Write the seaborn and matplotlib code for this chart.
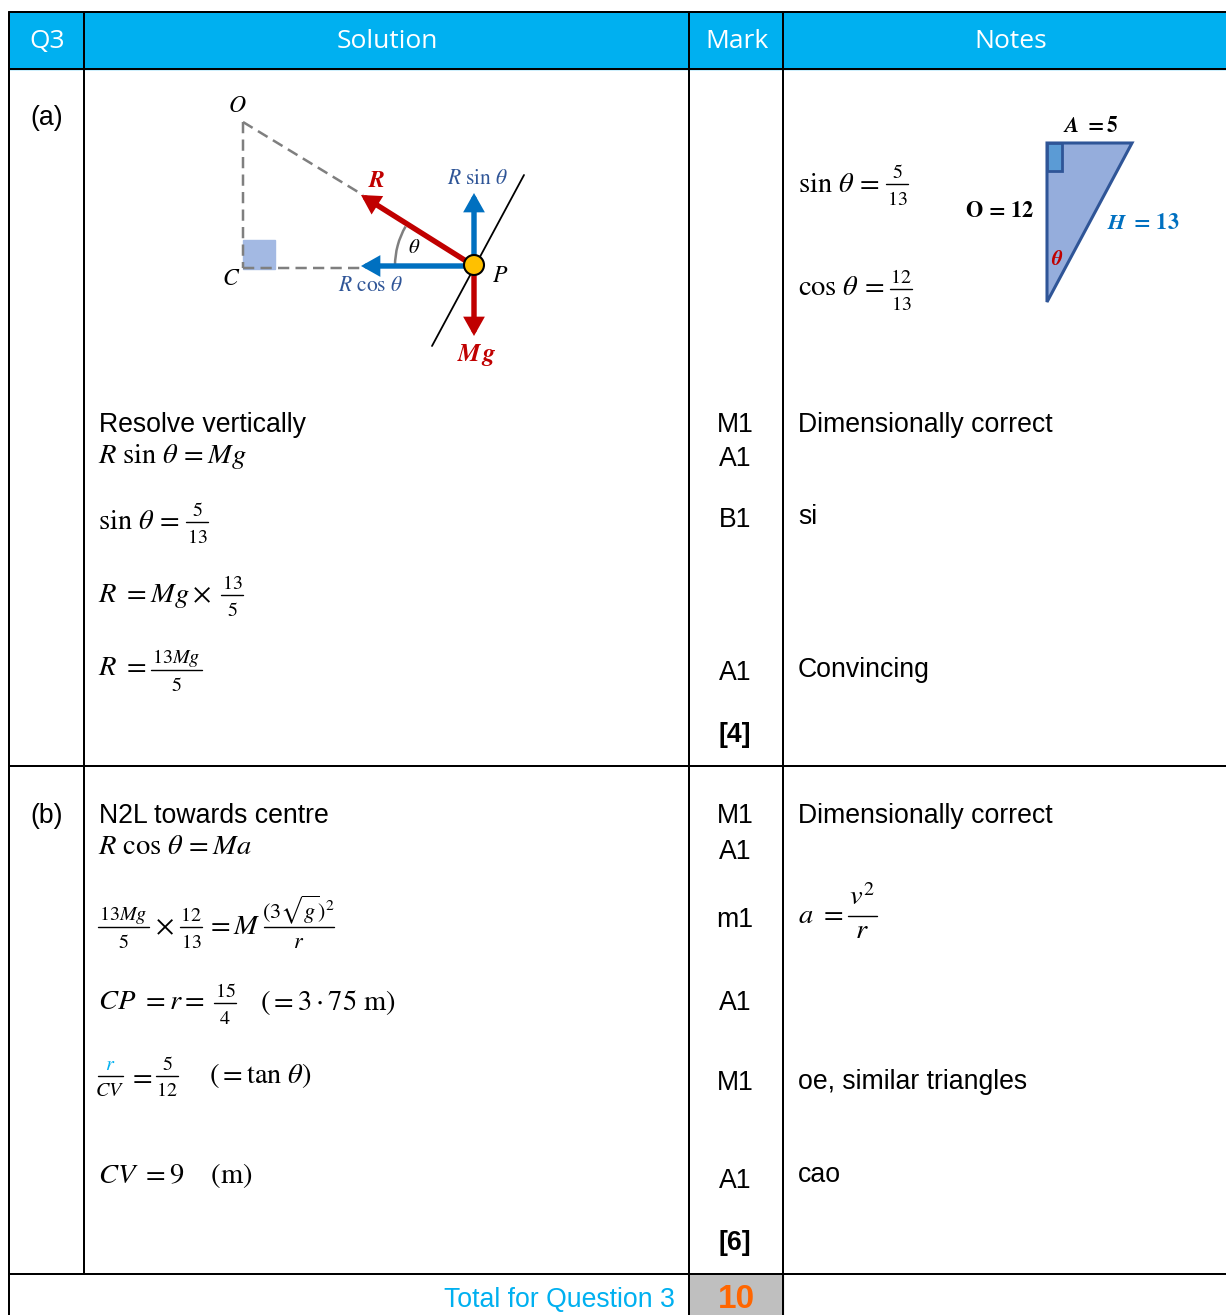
import matplotlib
matplotlib.use("Agg")
import matplotlib.pyplot as plt
from matplotlib.patches import Arc, Circle, FancyArrowPatch, Polygon, Rectangle
import seaborn as sns

# Tekst i tabellen
headers = ["Q3", "Solution", "Mark", "Notes"]
part_labels = ["(a)", "(b)"]
mark_labels = ["M1", "A1", "B1", "A1", "[4]", "M1", "A1", "m1", "A1", "M1", "A1", "[6]"]
note_labels = ["Dimensionally correct", "si", "Convincing",
               "Dimensionally correct", "oe, similar triangles", "cao"]
solution_words = ["Resolve vertically", "N2L towards centre"]
total_label = "Total for Question 3"
total_marks = "10"

# Plassering (piksler i referansen)
mark_y = [423, 457, 518, 671, 733, 814, 850, 918, 1001, 1081, 1179, 1241]
note_y = [423, 515, 668, 814, 1080, 1173]
word_y = [423, 814]
part_y = [116, 814]

HEAD_BLUE = "#00B0F0"
RED = "#C00000"
BLUE = "#0070C0"
NAVY = "#2F5597"
GREY = "#7F7F7F"
ARIAL = "Liberation Sans"
BODY = 19.2
MATH = 20.5
SMALL = 14.5

sns.set_theme(style="white")
plt.rcParams["mathtext.fontset"] = "stix"
plt.rcParams["font.family"] = [ARIAL, "DejaVu Sans"]

fig, ax = plt.subplots(figsize=(12.26, 13.15), dpi=100)
fig.subplots_adjust(0, 0, 1, 1)


def seg(xs, ys, color="black", px=2.0, **kw):
    sns.lineplot(x=xs, y=ys, sort=False, estimator=None, color=color,
                 linewidth=px * 0.72, ax=ax, legend=False, **kw)


def txt(x, y, s, size=BODY, color="black", ha="left", **kw):
    # +2: va="center" ligger litt høyt i forhold til referansen
    ax.text(x, y + 2, s, fontsize=size, color=color, ha=ha, va="center", **kw)


def frac(xc, y, width, num, den, color="black", size=SMALL, num_color=None, num_up=14):
    seg([xc - width / 2, xc + width / 2], [y, y], color=color, px=1.4)
    txt(xc, y - num_up, num, size=size, color=num_color or color, ha="center")
    txt(xc, y + 13, den, size=size, color=color, ha="center")


def arrow(start, end, color):
    ax.add_patch(FancyArrowPatch(start, end, color=color, linewidth=3.9,
                                 arrowstyle="-|>,head_length=8,head_width=4.5",
                                 mutation_scale=1, shrinkA=0, shrinkB=0,
                                 joinstyle="miter", zorder=3))


# Bakgrunnsfelt
ax.add_patch(Rectangle((9, 12), 1217, 57, color=HEAD_BLUE, zorder=0))
ax.add_patch(Rectangle((689, 1274), 94, 41, color="#BFBFBF", zorder=0))

# Tabellinjer
for y in [12, 69, 766, 1274]:
    seg([9, 1226], [y, y])
seg([9, 9], [12, 1315])
seg([84, 84], [12, 1274])
seg([689, 689], [12, 1315])
seg([783, 783], [12, 1315])

# Overskrifter
for x, label in zip([47, 387, 737, 1011], headers):
    txt(x, 39, label, size=19, color="white", ha="center", family="Open Sans")

for y, label in zip(part_y, part_labels):
    txt(47, y, label, ha="center")
for y, label in zip(mark_y, mark_labels):
    txt(735, y, label, ha="center", weight="bold" if label.startswith("[") else "normal")
for y, label in zip(note_y, note_labels):
    txt(798, y, label)
for y, label in zip(word_y, solution_words):
    txt(99, y, label)

txt(675, 1298, total_label, color=HEAD_BLUE, ha="right")
txt(736, 1298, total_marks, size=24, color="#FF6600", ha="center", weight="bold")

# Del (a) - utregning
txt(98, 454, r"$R\ \sin\,\theta\,=Mg$", size=MATH)
txt(98, 520, r"$\sin\,\theta\,=$", size=MATH)
frac(197, 522, 22, "$5$", "$13$")
txt(98, 594, r"$R\ =Mg\times$", size=MATH)
frac(232, 595, 22, "$13$", "$5$")
txt(98, 666, r"$R\ =$", size=MATH)
frac(176, 670, 51, "$13Mg$", "$5$")

# Del (b) - utregning
txt(98, 845, r"$R\ \cos\,\theta\,=Ma$", size=MATH)
frac(123, 927, 51, "$13Mg$", "$5$")
txt(155, 925, r"$\times$", size=MATH)
frac(191, 927, 22, "$12$", "$13$")
txt(206, 925, r"$=M$", size=MATH)
frac(299, 927, 70, r"$(3\sqrt{g})^2$", "$r$", size=16, num_up=19)
txt(98, 1000, r"$CP\ =r=$", size=MATH)
frac(225, 1003, 22, "$15$", "$4$")
txt(260, 1000, r"$(=3\cdot75\ \mathrm{m})$", size=MATH)
frac(110, 1076, 25, "$r$", "$CV$", num_color=HEAD_BLUE)
txt(128, 1075, "$=$", size=MATH)
frac(167, 1076, 22, "$5$", "$12$")
txt(209, 1074, r"$(=\tan\,\theta)$", size=MATH)
txt(98, 1174, r"$CV\ =9\quad\ (\mathrm{m})$", size=MATH)

# Noter - brøker
txt(798, 183, r"$\sin\,\theta\,=$", size=MATH)
frac(897, 184, 22, "$5$", "$13$")
txt(798, 286, r"$\cos\,\theta\,=$", size=MATH)
frac(901, 289, 22, "$12$", "$13$")
txt(798, 914, r"$a\ =$", size=MATH)
frac(862, 916, 29, "$v^2$", "$r$", size=MATH, num_up=20)

# Kraftdiagram
ax.add_patch(Rectangle((243, 240), 32, 29, color="#A3B9E3", zorder=1))
seg([243, 243], [122, 268], color=GREY, px=2.5, linestyle=(0, (4.5, 2.5)))
seg([243, 363], [122, 195], color=GREY, px=2.5, linestyle=(0, (4.5, 2.5)))
seg([243, 362], [268, 268], color=GREY, px=2.5, linestyle=(0, (4.5, 2.5)))
seg([524, 432], [175, 346], px=1.8)
ax.add_patch(Arc((474, 266), 158, 158, theta1=180, theta2=210, color=GREY, linewidth=1.8))
arrow((474, 266), (361, 195), RED)
arrow((474, 266), (474, 336), RED)
arrow((474, 266), (361, 266), BLUE)
arrow((474, 266), (474, 193), BLUE)
ax.add_patch(Circle((474, 265), 10, facecolor="#FFC000", edgecolor="black", linewidth=1.5, zorder=4))
txt(237, 104, "$O$", size=17, ha="center")
txt(231, 277, "$C$", size=17, ha="center")
txt(500, 274, "$P$", size=17, ha="center")
txt(414, 245, r"$\theta$", size=15, ha="center")
txt(377, 179, r"$\mathbfit{R}$", size=17, color=RED, ha="center")
txt(478, 176, r"$R\ \sin\,\theta$", size=15.5, color=NAVY, ha="center")
txt(371, 283, r"$R\ \cos\,\theta$", size=15.5, color=NAVY, ha="center")
txt(477, 353, r"$\mathbfit{M\,g}$", size=18, color=RED, ha="center")

# Trekant i notefeltet
ax.add_patch(Polygon([(1047, 143), (1132, 143), (1047, 302)], closed=True,
                     facecolor="#95ADDC", edgecolor=NAVY, linewidth=2.2, zorder=1))
ax.add_patch(Rectangle((1047, 143), 15, 28, facecolor="#5B9BD5", edgecolor=NAVY, linewidth=2.0, zorder=2))
txt(1091, 124, r"$\mathbfit{A}\ \mathbf{=5}$", size=15.5, ha="center")
txt(1000, 209, r"$\mathbf{O\,=\,12}$", size=16, ha="center")
txt(1143, 221, r"$\mathbfit{H}\ \mathbf{=\,13}$", size=16, color=BLUE, ha="center")
txt(1057, 257, r"$\mathbfit{\theta}$", size=15, color=RED, ha="center")

ax.set_xlim(0, 1226)
ax.set_ylim(1315, 0)
ax.axis("off")
fig.savefig("out.png", dpi=100)
